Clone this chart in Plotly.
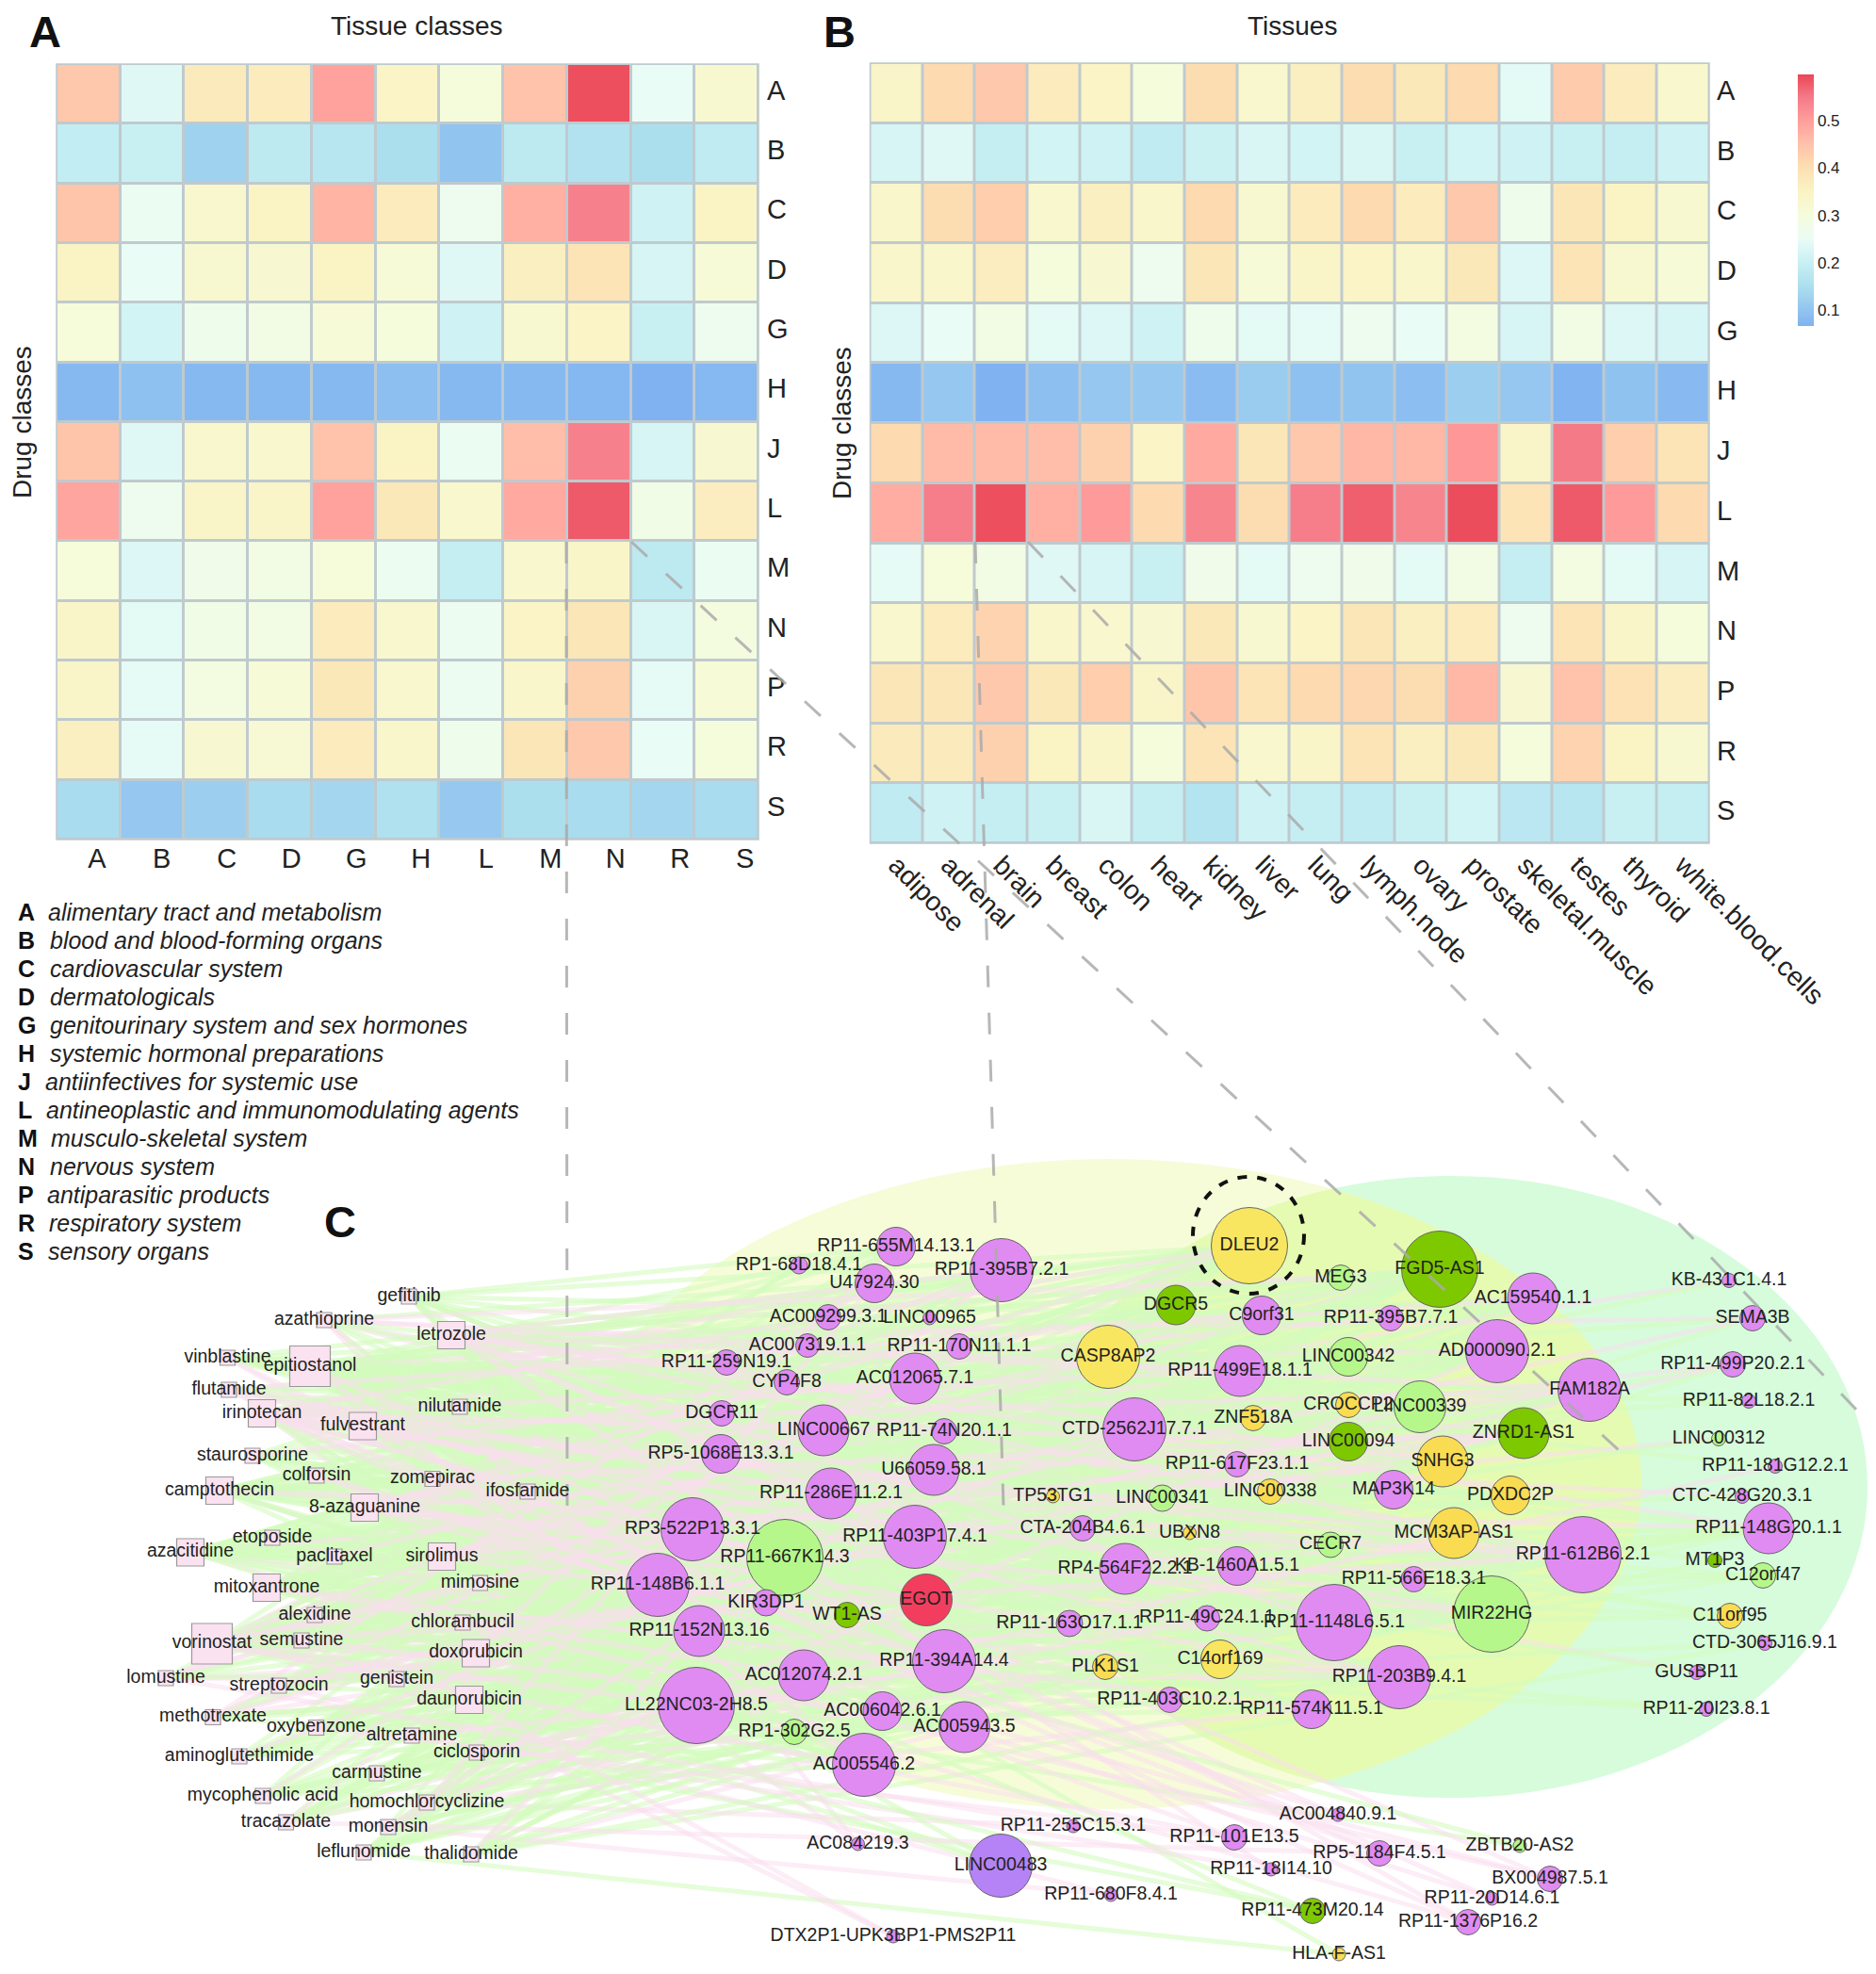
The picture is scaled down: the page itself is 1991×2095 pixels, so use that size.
import math
import numpy as np
import plotly.graph_objects as go

W, H = 1991, 2095
FONT = "Liberation Sans, Arial, sans-serif"

drug_classes = ["A","B","C","D","G","H","J","L","M","N","P","R","S"]
tissue_classes = ["A","B","C","D","G","H","L","M","N","R","S"]
tissues = ["adipose","adrenal","brain","breast","colon","heart","kidney","liver","lung",
           "lymph.node","ovary","prostate","skeletal.muscle","testes","thyroid","white.blood.cells"]

heat_a = [
 [.44,.235,.375,.37,.495,.345,.30,.45,.59,.25,.325],
 [.19,.20,.125,.18,.17,.15,.10,.18,.16,.15,.185],
 [.445,.255,.33,.35,.47,.37,.265,.475,.54,.21,.35],
 [.35,.25,.325,.32,.35,.31,.235,.36,.39,.22,.31],
 [.305,.215,.27,.285,.31,.30,.21,.325,.345,.20,.265],
 [.08,.095,.08,.08,.08,.09,.08,.08,.075,.066,.078],
 [.445,.235,.33,.33,.45,.35,.255,.455,.54,.22,.32],
 [.49,.265,.34,.34,.495,.38,.33,.485,.58,.28,.365],
 [.305,.23,.275,.285,.305,.26,.195,.33,.34,.18,.255],
 [.34,.24,.28,.285,.37,.33,.26,.345,.385,.225,.295],
 [.34,.245,.29,.31,.38,.33,.26,.335,.425,.245,.31],
 [.36,.245,.32,.315,.37,.335,.27,.385,.44,.25,.30],
 [.145,.105,.12,.145,.135,.155,.11,.15,.145,.135,.145],
]
heat_b = [
 [.34,.41,.44,.37,.345,.30,.405,.33,.36,.405,.38,.41,.24,.435,.37,.33],
 [.22,.235,.195,.215,.21,.185,.205,.225,.215,.225,.20,.215,.21,.20,.195,.21],
 [.335,.405,.43,.33,.36,.335,.41,.325,.37,.41,.37,.44,.27,.385,.35,.325],
 [.335,.335,.365,.30,.32,.265,.385,.31,.34,.345,.335,.38,.23,.39,.325,.31],
 [.23,.25,.285,.24,.23,.21,.27,.24,.245,.265,.25,.29,.22,.285,.23,.22],
 [.08,.105,.066,.09,.105,.11,.085,.115,.095,.10,.088,.12,.105,.07,.097,.082],
 [.41,.46,.46,.455,.425,.345,.485,.385,.44,.465,.465,.51,.34,.55,.43,.39],
 [.48,.545,.59,.475,.505,.41,.535,.405,.545,.575,.535,.592,.39,.58,.505,.41],
 [.245,.305,.285,.235,.22,.20,.275,.24,.265,.275,.24,.285,.195,.29,.24,.22],
 [.33,.37,.42,.335,.33,.32,.38,.325,.345,.385,.36,.37,.265,.39,.34,.30],
 [.385,.385,.44,.38,.43,.34,.445,.39,.41,.415,.405,.465,.32,.45,.395,.365],
 [.375,.375,.425,.35,.34,.30,.39,.33,.34,.39,.36,.38,.30,.42,.35,.325],
 [.185,.21,.195,.20,.225,.195,.165,.21,.195,.185,.20,.215,.175,.17,.20,.195],
]
colorbar_ticks = [0.1, 0.2, 0.3, 0.4, 0.5]
scale_values = [.066,.10,.15,.20,.25,.30,.35,.40,.45,.50,.55,.598]
scale_colors = ["#80B2F2","#92C4F0","#ACDFEE","#C8F0F3","#EAFCF6","#F5FCDC",
                "#FAF3C4","#FCE0B2","#FFC2AA","#FF9E9C","#F47A88","#EB4656"]

legend_letters = ["A","B","C","D","G","H","J","L","M","N","P","R","S"]
legend_names = ["alimentary tract and metabolism","blood and blood-forming organs","cardiovascular system",
                "dermatologicals","genitourinary system and sex hormones","systemic hormonal preparations",
                "antiinfectives for systemic use","antineoplastic and immunomodulating agents",
                "musculo-skeletal system","nervous system","antiparasitic products",
                "respiratory system","sensory organs"]
legend_text_x = [49,51,51,51,51,51,46,47,52,51,48,50,49]

# Network: drugs (square nodes), positions read in figure pixels
drug_names = ["gefitinib","azathioprine","letrozole","vinblastine","epitiostanol","flutamide","irinotecan",
 "nilutamide","fulvestrant","staurosporine","colforsin","zomepirac","camptothecin","ifosfamide","8-azaguanine",
 "etoposide","azacitidine","paclitaxel","sirolimus","mimosine","mitoxantrone","alexidine","chlorambucil",
 "semustine","vorinostat","doxorubicin","lomustine","genistein","streptozocin","daunorubicin","methotrexate",
 "oxybenzone","altretamine","ciclosporin","aminoglutethimide","carmustine","mycophenolic acid",
 "homochlorcyclizine","tracazolate","monensin","leflunomide","thalidomide"]
drug_x = [434,344,479,241.5,329,243,278,488,385,268,336,459,233,560,387,289,202,355,469,509.5,283,334,491,320,225,
          505,176,421,296,498,226,335.6,437,506,254,400,279,453,303.5,412,386,500]
drug_y = [1376,1401,1417,1441,1450,1475,1500,1493,1513.5,1545,1566,1569.5,1582,1583,1600,1632,1647.5,1652,1652,
          1680,1685,1714,1722,1741,1744.5,1754.5,1781,1782,1789,1804,1822.5,1833.5,1842,1860,1864,1882,1906,1913,
          1934,1939,1966,1968]
drug_size = [16,16,29,16,43,16,29,16,29,16,16,16,29,16,29,16,29,16,29,16,29,16,16,16,43,29,16,16,16,29,16,16,16,16,
             16,16,16,16,16,16,16,16]
# 1 = the edges leaving this drug look mostly pink, 0 = mostly green
drug_pink = [0,1,1,0,0,1,1,0,1,0,0,1,0,0,1,0,0,0,1,0,0,0,0,1,1,0,1,0,1,0,1,0,0,1,0,0,0,1,0,0,0,0]

# Network: lncRNAs (round nodes)
lnc_names = ["RP11-655M14.13.1","RP1-68D18.4.1","U47924.30","RP11-395B7.2.1","AC009299.3.1","LINC00965","AC007319.1.1",
 "RP11-170N11.1.1","RP11-259N19.1","CYP4F8","AC012065.7.1","DGCR11","LINC00667","RP11-74N20.1.1","RP5-1068E13.3.1",
 "U66059.58.1","RP11-286E11.2.1","TP53TG1","LINC00341","RP3-522P13.3.1","RP11-667K14.3","RP11-403P17.4.1",
 "CTA-204B4.6.1","RP4-564F22.2.1","RP11-148B6.1.1","KIR3DP1","WT1-AS","EGOT","RP11-163O17.1.1","RP11-152N13.16",
 "RP11-394A14.4","CASP8AP2","CTD-2562J17.7.1","DGCR5","DLEU2","MEG3","FGD5-AS1","AC159540.1.1","C9orf31",
 "RP11-395B7.7.1","LINC00342","RP11-499E18.1.1","AD000090.2.1","FAM182A","CROCCP2","LINC00339","ZNF518A",
 "LINC00094","ZNRD1-AS1","SNHG3","RP11-617F23.1.1","MAP3K14","LINC00338","PDXDC2P","UBXN8","MCM3AP-AS1","CECR7",
 "RP11-612B6.2.1","KB-1460A1.5.1","RP11-566E18.3.1","MIR22HG","RP11-1148L6.5.1","RP11-49C24.1.1","PLK1S1",
 "C14orf169","RP11-203B9.4.1","RP11-403C10.2.1","RP11-574K11.5.1","KB-431C1.4.1","SEMA3B","RP11-499P20.2.1",
 "RP11-82L18.2.1","LINC00312","RP11-181G12.2.1","CTC-428G20.3.1","RP11-148G20.1.1","MT1P3","C12orf47","C11orf95",
 "CTD-3065J16.9.1","GUSBP11","RP11-20I23.8.1","AC012074.2.1","LL22NC03-2H8.5","AC006042.6.1","AC005943.5",
 "RP1-302G2.5","AC005546.2","RP11-255C15.3.1","AC004840.9.1","RP11-101E13.5","AC084219.3","LINC00483",
 "RP5-1184F4.5.1","ZBTB20-AS2","RP11-18I14.10","BX004987.5.1","RP11-680F8.4.1","RP11-20D14.6.1","RP11-473M20.14",
 "RP11-1376P16.2","DTX2P1-UPK3BP1-PMS2P11","HLA-F-AS1"]
lnc_x = [951,848,928,1063,879,986.5,857,1018,771,835,971,766,874,1002,765,991,882,1117.5,1233.5,735,833,971,1149,1194,
 698,813,899,983,1135,742,1002,1176,1204,1248,1326,1423,1528,1627,1339,1476,1431,1316,1589,1687,1431,1507,1330,1431,
 1617,1531,1313,1479,1348,1603,1262.5,1543,1412,1680,1313,1500.5,1583,1416,1281,1173,1295,1485,1241.5,1392,1835,1860,
 1839,1856,1824,1884,1849,1877,1820,1871,1836,1873,1800.5,1811,853,739,936.5,1023.5,843,917,1139,1420,1310,910.5,
 1062,1464,1613,1349,1645,1179,1583.5,1393,1558,948,1421]
lnc_y = [1323,1343,1362,1348,1398,1399,1428,1429,1446,1467,1463,1500,1518,1519,1543,1560,1585,1588,1590,1623,1653,1631,
 1622,1665,1682,1701,1714,1698,1723,1731,1763,1440,1517,1385,1322,1356,1347,1378,1396,1399,1440,1455,1434,1475,1491,
 1493,1505,1530,1521,1551,1554,1581,1583,1587,1627,1627,1639.5,1650,1662,1676,1713,1722,1717.5,1769,1761,1780,1804,
 1814,1359,1399,1448,1487,1527,1556,1588,1622,1656,1672,1715,1744,1775,1814,1778,1810,1816,1833,1838,1873,1938,1926,
 1950,1957,1980,1967,1959,1984,1994,2011,2015,2028,2040,2055,2074]
lnc_size = [41,18,41,67,27,14,25,27,27,27,54,27,54,27,41,54,54,14,28,67,81,67,27,54,67,28,27,55,28,54,67,67,67,42,81,
 27,81,54,41,27,41,54,67,67,27,55,27,41,54,54,27,41,27,41,14,54,27,81,41,27,81,81,27,27,41,67,27,41,15,27,27,15,15,15,
 15,54,15,27,27,15,15,15,54,81,41,54,27,67,14,14,27,14,67,27,14,14,27,14,14,27,27,14,14]
GROUP_COLOR = {"p":"#E08BF2","l":"#B6F78B","d":"#7EC800","y":"#F9E660","o":"#F9DC52","r":"#F33D5E","v":"#B583F5"}
lnc_overrides = {"MEG3":"l","LINC00342":"l","LINC00339":"l","LINC00341":"l","CECR7":"l","MIR22HG":"l",
 "RP11-667K14.3":"l","RP1-302G2.5":"l","C12orf47":"l","LINC00312":"l","ZBTB20-AS2":"l",
 "DGCR5":"d","FGD5-AS1":"d","LINC00094":"d","ZNRD1-AS1":"d","WT1-AS":"d","MT1P3":"d","RP11-473M20.14":"d",
 "DLEU2":"y","CASP8AP2":"y","C14orf169":"y",
 "CROCCP2":"o","ZNF518A":"o","SNHG3":"o","LINC00338":"o","PDXDC2P":"o","MCM3AP-AS1":"o","TP53TG1":"o","UBXN8":"o",
 "PLK1S1":"o","C11orf95":"o","HLA-F-AS1":"o","EGOT":"r","LINC00483":"v"}
lnc_colors = [GROUP_COLOR[lnc_overrides.get(n, "p")] for n in lnc_names]

# Individual edges cannot be read from the picture (they merge into a wash); the bundle is approximated:
# each node gets a number of edges that follows its drawn size, dealt over the drugs in turn.
node_edges = {14:2,15:2,18:2,25:4,27:4,28:4,41:8,42:8,54:13,55:13,67:18,81:25}
drug_edges = {16:3,29:8,43:16}
# the nodes below the bundle show only a few separate lines in the reference
sparse_below_y = 1900
sparse_edges = 3

connector_x0 = [601,670,1035,1091]
connector_y0 = [575,575,575,575]
connector_x1 = [602,1719,1065,1972]
connector_y1 = [1625,1540,1600,1498]

stubs = []
for i, s in enumerate(drug_size):
    stubs += [i] * drug_edges[s]
stride = 37
while math.gcd(stride, len(stubs)) != 1:
    stride += 2
layers = [([], []) for _ in range(6)]  # green, pink, green, pink, ...
c = 0
for j, nm in enumerate(lnc_names):
    purple = lnc_overrides.get(nm, "p") == "p"
    count = node_edges[lnc_size[j]]
    if lnc_y[j] > sparse_below_y:
        count = min(count, sparse_edges)
    for e in range(count):
        d = stubs[c % len(stubs)]
        c += stride
        pink = (drug_pink[d] == 1 and e % 2 == 0) or (purple and drug_pink[d] == 0 and e % 5 == 4)
        if lnc_y[j] > sparse_below_y:
            pink = purple
        k = (c % 3) * 2 + (1 if pink else 0)
        layers[k][0].extend([drug_x[d], lnc_x[j], None])
        layers[k][1].extend([drug_y[d], lnc_y[j], None])

fig = go.Figure()
lo, hi = scale_values[0], scale_values[-1]
colorscale = [[(v - lo) / (hi - lo), col] for v, col in zip(scale_values, scale_colors)]

# A's bottom labels sit slightly off the cell centres in the reference, hence separate tick positions.
tissue_class_ticks = [0.135, 1.15, 2.17, 3.18, 4.2, 5.21, 6.23, 7.24, 8.26, 9.27, 10.29]
fig.add_trace(go.Heatmap(z=heat_a, x=list(range(len(tissue_classes))), y=drug_classes, coloraxis="coloraxis",
                         xgap=3, ygap=3, xaxis="x", yaxis="y", hoverinfo="skip"))
fig.add_trace(go.Heatmap(z=heat_b, x=tissues, y=drug_classes, coloraxis="coloraxis",
                         xgap=3, ygap=3, xaxis="x2", yaxis="y2", hoverinfo="skip"))

for k, (ex, ey) in enumerate(layers):
    col = "rgba(250,222,238,0.55)" if k % 2 else "rgba(212,252,190,0.6)"
    fig.add_trace(go.Scatter(x=ex, y=ey, mode="lines", line=dict(color=col, width=5),
                             xaxis="x3", yaxis="y3", hoverinfo="skip", showlegend=False))

fig.add_trace(go.Scatter(x=drug_x, y=drug_y, mode="markers", xaxis="x3", yaxis="y3", showlegend=False, hoverinfo="skip",
                         marker=dict(symbol="square", size=drug_size, color="#FBE2F0", opacity=1,
                                     line=dict(color="#999999", width=1.2))))
fig.add_trace(go.Scatter(x=lnc_x, y=lnc_y, mode="markers", xaxis="x3", yaxis="y3", showlegend=False, hoverinfo="skip",
                         marker=dict(symbol="circle", size=lnc_size, color=lnc_colors, opacity=1,
                                     line=dict(color="#666666", width=1))))
for cx0, cy0, cx1, cy1 in zip(connector_x0, connector_y0, connector_x1, connector_y1):
    fig.add_trace(go.Scatter(x=[cx0, cx1], y=[cy0, cy1], mode="lines", xaxis="x3", yaxis="y3", showlegend=False,
                             hoverinfo="skip", line=dict(color="rgba(170,170,170,0.85)", width=3, dash="23px,27px")))
fig.add_trace(go.Scatter(x=drug_x + lnc_x, y=drug_y + lnc_y, text=drug_names + lnc_names, mode="text",
                         textposition="middle center", textfont=dict(family=FONT, size=19.5, color="#222222"),
                         xaxis="x3", yaxis="y3", showlegend=False, hoverinfo="skip", cliponaxis=False))

# background ellipses
YE = (1177, 1575, 565, 345)
GE = (1540, 1578, 442, 330)
t = np.linspace(0, 2 * np.pi, 721)
def pts(e):
    return e[0] + e[2] * np.cos(t), e[1] + e[3] * np.sin(t)
def inside(px, py, e):
    return ((px - e[0]) / e[2]) ** 2 + ((py - e[1]) / e[3]) ** 2 <= 1
yx, yy = pts(YE)
gx, gy = pts(GE)
lx = np.r_[yx[inside(yx, yy, GE)], gx[inside(gx, gy, YE)]]
ly = np.r_[yy[inside(yx, yy, GE)], gy[inside(gx, gy, YE)]]
order = np.argsort(np.arctan2(ly - ly.mean(), lx - lx.mean()))
lens = "M " + " L ".join(f"{a:.1f},{b:.1f}" for a, b in zip(lx[order], ly[order])) + " Z"

shapes = [
    dict(type="rect", xref="x domain", yref="y domain", x0=0, x1=1, y0=0, y1=1, fillcolor="#BFCACE",
         line=dict(width=1.5, color="#BFCACE"), layer="below"),
    dict(type="rect", xref="x2 domain", yref="y2 domain", x0=0, x1=1, y0=0, y1=1, fillcolor="#BFCACE",
         line=dict(width=1.5, color="#BFCACE"), layer="below"),
    dict(type="circle", xref="x3", yref="y3", x0=YE[0]-YE[2], x1=YE[0]+YE[2], y0=YE[1]-YE[3], y1=YE[1]+YE[3],
         fillcolor="#F6FCD8", line=dict(width=0), layer="below"),
    dict(type="circle", xref="x3", yref="y3", x0=GE[0]-GE[2], x1=GE[0]+GE[2], y0=GE[1]-GE[3], y1=GE[1]+GE[3],
         fillcolor="#D6FCDC", line=dict(width=0), layer="below"),
    dict(type="path", xref="x3", yref="y3", path=lens, fillcolor="#E6FBB2", line=dict(width=0), layer="below"),
    dict(type="circle", xref="x3", yref="y3", x0=1266, x1=1384, y0=1249, y1=1373,
         line=dict(color="#111111", width=4, dash="10px,11px"), layer="above"),
]

def note(x, y, text, size, anchor="center", angle=0, color="#222222"):
    return dict(x=x, y=y, xref="x3", yref="y3", text=text, showarrow=False, xanchor=anchor, yanchor="middle",
                textangle=angle, font=dict(family=FONT, size=size, color=color))

ann = [
    note(48, 33, "<b>A</b>", 47, color="#111111"),
    note(891, 33, "<b>B</b>", 47, color="#111111"),
    note(361, 1296, "<b>C</b>", 47, color="#111111"),
    note(442, 27, "Tissue classes", 28),
    note(1371.5, 27, "Tissues", 28),
    note(23, 448, "Drug classes", 28, angle=-90),
    note(893, 449, "Drug classes", 28, angle=-90),
]
for i, (a, b, bx) in enumerate(zip(legend_letters, legend_names, legend_text_x)):
    ann.append(note(17, 968 + 30 * i, f"<b>{a}</b>", 25, anchor="left", color="#111111"))
    ann.append(note(bx, 968 + 30 * i, f"<i>{b}</i>", 25, anchor="left"))

axis_common = dict(showgrid=False, zeroline=False, showline=False, ticks="", fixedrange=True)
fig.update_layout(
    width=W, height=H, margin=dict(l=0, r=0, t=0, b=0, autoexpand=False), autosize=False,
    paper_bgcolor="white", plot_bgcolor="rgba(0,0,0,0)", showlegend=False,
    font=dict(family=FONT, color="#222222"),
    shapes=shapes, annotations=ann,
    coloraxis=dict(cmin=lo, cmax=hi, colorscale=colorscale,
                   colorbar=dict(x=1907.5 / W, xanchor="left", y=1 - 79 / H, yanchor="top", len=267, lenmode="pixels",
                                 thickness=16.5, thicknessmode="pixels", xpad=0, ypad=0, outlinewidth=0, tickvals=colorbar_ticks,
                                 ticks="", ticktext=[str(v) for v in colorbar_ticks],
                                 tickfont=dict(family=FONT, size=17, color="#222222"))),
    xaxis=dict(domain=[60 / W, 805 / W], anchor="y", side="bottom", tickfont=dict(size=29), range=[-0.5, 10.5],
               tickmode="array", tickvals=tissue_class_ticks, ticktext=tissue_classes, **axis_common),
    yaxis=dict(domain=[1 - 891 / H, 1 - 68 / H], anchor="x", side="right", autorange="reversed", ticklabelshift=4,
               tickfont=dict(size=29), ticklabelstandoff=8, tickmode="array", tickvals=drug_classes, ticktext=drug_classes, **axis_common),
    xaxis2=dict(domain=[923.5 / W, 1814 / W], anchor="y2", side="bottom", tickangle=45, tickfont=dict(size=28.5),
                tickmode="array", tickvals=tissues, ticktext=tissues, **axis_common),
    yaxis2=dict(domain=[1 - 895 / H, 1 - 67 / H], anchor="x2", side="right", autorange="reversed", ticklabelshift=3,
                tickfont=dict(size=29), ticklabelstandoff=7, tickmode="array", tickvals=drug_classes, ticktext=drug_classes, **axis_common),
    xaxis3=dict(domain=[0, 1], range=[0, W], anchor="y3", visible=False, fixedrange=True),
    yaxis3=dict(domain=[0, 1], range=[H, 0], anchor="x3", visible=False, fixedrange=True),
)
fig.write_html("out.html", config={"displayModeBar": False}, post_script="document.body.style.margin='0';")
